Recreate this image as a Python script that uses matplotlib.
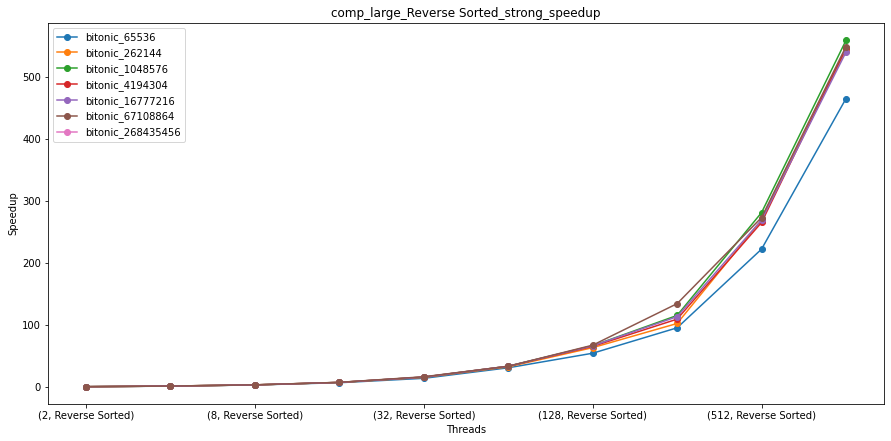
import matplotlib
matplotlib.use('Agg')
import matplotlib.pyplot as plt

nan = float('nan')

threads = [2, 4, 8, 16, 32, 64, 128, 256, 512, 1024]
input_type = 'Reverse Sorted'

sizes = ['65536', '262144', '1048576', '4194304', '16777216', '67108864', '268435456']

speedup_65536 = [1.0, 1.9, 3.8, 7.4, 14.5, 31.5, 55, 96, 223, 466]
speedup_262144 = [1.0, 2.0, 3.9, 7.8, 16.0, 33, 64, 103, 270, 545]
speedup_1048576 = [1.0, 2.0, 3.9, 7.9, 16.5, 34, 67, 116, 282, 560]
speedup_4194304 = [1.0, 2.0, 3.9, 7.9, 16.5, 34, 66, 110, 266, 547]
speedup_16777216 = [1.0, 2.0, 3.9, 7.9, 16.5, 34, 67, 114, 270, 541]
speedup_67108864 = [1.0, 2.0, 4.0, 8.0, 17.0, 34, 68, 135, 274, 550]
# no measurements for the largest size, only shows up in the legend
speedup_268435456 = [nan] * 10

series = [speedup_65536, speedup_262144, speedup_1048576, speedup_4194304,
          speedup_16777216, speedup_67108864, speedup_268435456]

fig = plt.figure(figsize=(891 / 72, 441 / 72), dpi=72)
ax = fig.add_axes([48 / 891, 1 - 404 / 441, (884 - 48) / 891, (404 - 23) / 441])

xs = list(range(len(threads)))
for name, vals in zip(sizes, series):
    ax.plot(xs, vals, marker='o', label=f'bitonic_{name}')

tick_pos = xs[::2]
ax.set_xticks(tick_pos)
ax.set_xticklabels([f'({threads[i]}, {input_type})' for i in tick_pos])
ax.set_xlabel('Threads')
ax.set_ylabel('Speedup')
ax.set_title(f'comp_large_{input_type}_strong_speedup')
ax.legend(loc='upper left')

fig.savefig('out.png', dpi=72)
plt.close(fig)
